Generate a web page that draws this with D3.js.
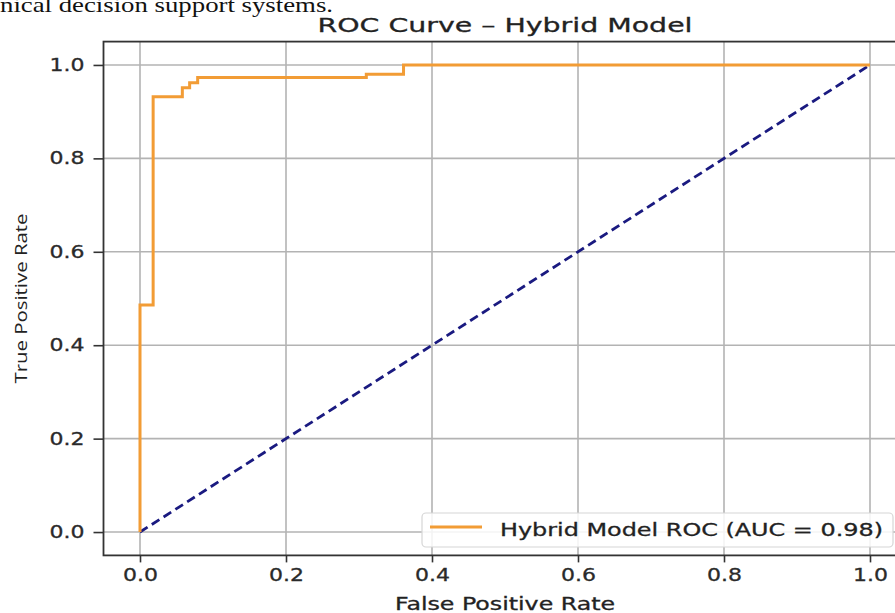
<!DOCTYPE html>
<html>
<head>
<meta charset="utf-8">
<script src="https://cdn.jsdelivr.net/npm/d3@7"></script>
<style>
  body { margin: 0; background: #fff; }
  svg { display: block; }
</style>
</head>
<body>
<div id="chart"></div>
<script>
// ROC curve points
const fpr = [0, 0, 0.018, 0.018, 0.058, 0.058, 0.068, 0.068, 0.079, 0.079, 0.31, 0.31, 0.361, 0.361, 1];
const tpr = [0, 0.486, 0.486, 0.932, 0.932, 0.951, 0.951, 0.962, 0.962, 0.973, 0.973, 0.98, 0.98, 1, 1];
const chanceLine = [0, 1];
const xTicks = [0, 0.2, 0.4, 0.6, 0.8, 1.0];
const yTicks = [0, 0.2, 0.4, 0.6, 0.8, 1.0];
const legendLabel = "Hybrid Model ROC (AUC = 0.98)";

const W = 895, H = 613;
const font = "'DejaVu Sans', sans-serif";

const svg = d3.select("#chart")
    .append("svg")
    .attr("width", W)
    .attr("height", H);

svg.append("rect").attr("width", W).attr("height", H).attr("fill", "#fff");

// cropped paragraph text from the document above the figure
svg.append("text")
    .attr("x", 0)
    .attr("y", 12)
    .attr("textLength", 333)
    .attr("lengthAdjust", "spacingAndGlyphs")
    .style("font-family", "'Liberation Serif', 'Times New Roman', serif")
    .style("font-size", "22px")
    .style("fill", "#111")
    .text("nical decision support systems.");

// Scales (axes go a bit past 0 and 1 like matplotlib margins)
const x = d3.scaleLinear().domain([-0.05, 1.05]).range([103.5, 906.5]);
const y = d3.scaleLinear().domain([-0.05, 1.05]).range([555.4, 41.6]);

const g = svg.append("g");

// Grid
g.selectAll(".gx")
    .data(xTicks)
    .enter()
    .append("line")
    .attr("x1", d => x(d)).attr("x2", d => x(d))
    .attr("y1", y(-0.05)).attr("y2", y(1.05))
    .attr("stroke", "#b3b3b3")
    .attr("stroke-width", 1.6);

g.selectAll(".gy")
    .data(yTicks)
    .enter()
    .append("line")
    .attr("x1", x(-0.05)).attr("x2", x(1.05))
    .attr("y1", d => y(d)).attr("y2", d => y(d))
    .attr("stroke", "#b3b3b3")
    .attr("stroke-width", 1.6);

// Chance diagonal
g.append("path")
    .datum(chanceLine)
    .attr("d", d3.line().x(d => x(d)).y(d => y(d)))
    .attr("fill", "none")
    .attr("stroke", "#1a1a80")
    .attr("stroke-width", 2.8)
    .attr("stroke-dasharray", "9,5");

// ROC curve
const pts = fpr.map((f, i) => [f, tpr[i]]);
g.append("path")
    .datum(pts)
    .attr("d", d3.line().x(d => x(d[0])).y(d => y(d[1])))
    .attr("fill", "none")
    .attr("stroke", "#f29c35")
    .attr("stroke-width", 3);

// Axes
const xAxis = g.append("g")
    .attr("transform", `translate(0, ${y(-0.05)})`)
    .call(d3.axisBottom(x).tickValues(xTicks).tickFormat(d3.format(".1f")).tickSize(7).tickPadding(6));

const yAxis = g.append("g")
    .attr("transform", `translate(${x(-0.05)}, 0)`)
    .call(d3.axisLeft(y).tickValues(yTicks).tickFormat(d3.format(".1f")).tickSize(10).tickPadding(9));

[xAxis, yAxis].forEach(a => {
    a.select(".domain").remove();
    a.selectAll(".tick line").attr("stroke", "#333").attr("stroke-width", 1.6);
    a.selectAll(".tick text")
        .attr("textLength", 35)
        .attr("lengthAdjust", "spacingAndGlyphs")
        .style("font-family", font)
        .style("font-size", "17.5px")
        .style("fill", "#2a2a2a")
        .style("stroke", "#2a2a2a")
        .style("stroke-width", 0.3);
});

// Spines
g.append("rect")
    .attr("x", x(-0.05))
    .attr("y", y(1.05))
    .attr("width", x(1.05) - x(-0.05))
    .attr("height", y(-0.05) - y(1.05))
    .attr("fill", "none")
    .attr("stroke", "#333")
    .attr("stroke-width", 1.8);

// Title
svg.append("text")
    .attr("x", x(0.5))
    .attr("y", 32)
    .attr("text-anchor", "middle")
    .attr("textLength", 375)
    .attr("lengthAdjust", "spacingAndGlyphs")
    .style("font-family", font)
    .style("font-size", "20px")
    .style("fill", "#222")
    .style("stroke", "#222")
    .style("stroke-width", 0.3)
    .text("ROC Curve \u2013 Hybrid Model");

// Axis labels
svg.append("text")
    .attr("x", x(0.5))
    .attr("y", 610)
    .attr("text-anchor", "middle")
    .attr("textLength", 220)
    .attr("lengthAdjust", "spacingAndGlyphs")
    .style("font-family", font)
    .style("font-size", "17px")
    .style("fill", "#222")
    .style("stroke", "#222")
    .style("stroke-width", 0.3)
    .text("False Positive Rate");

svg.append("text")
    .attr("transform", `translate(27, ${y(0.5)}) rotate(-90)`)
    .attr("text-anchor", "middle")
    .attr("textLength", 170)
    .attr("lengthAdjust", "spacingAndGlyphs")
    .style("font-family", "'Open Sans', sans-serif")
    .style("font-size", "16px")
    .style("fill", "#222")
    .text("True Positive Rate");

// Legend
const lg = svg.append("g");
lg.append("rect")
    .attr("x", 422).attr("y", 513)
    .attr("width", 471).attr("height", 34)
    .attr("rx", 4)
    .attr("fill", "#fff")
    .attr("fill-opacity", 0.85)
    .attr("stroke", "#d6d6d6")
    .attr("stroke-width", 1.2);

lg.append("line")
    .attr("x1", 430).attr("x2", 482)
    .attr("y1", 527).attr("y2", 527)
    .attr("stroke", "#f29c35")
    .attr("stroke-width", 3);

lg.append("text")
    .attr("x", 500)
    .attr("y", 536)
    .attr("textLength", 383)
    .attr("lengthAdjust", "spacingAndGlyphs")
    .style("font-family", font)
    .style("font-size", "17.5px")
    .style("fill", "#222")
    .style("stroke", "#222")
    .style("stroke-width", 0.3)
    .text(legendLabel);
</script>
</body>
</html>
